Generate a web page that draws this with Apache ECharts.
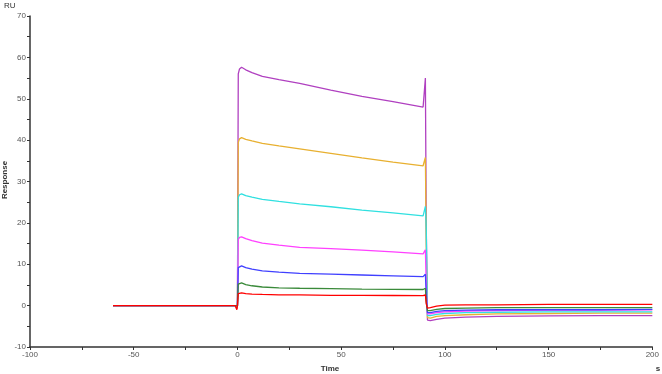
<!DOCTYPE html>
<html><head><meta charset="utf-8">
<script src="https://cdn.jsdelivr.net/npm/echarts@6/dist/echarts.min.js"></script>
<style>html,body{margin:0;padding:0;background:#fff}#c{width:662px;height:374px}</style>
</head><body><div id="c"></div>
<script>
const times = [-60, -1, -0.3, 0, 0.4, 1, 2, 4, 7, 12, 20, 30, 45, 60, 75, 89.5, 90.2, 90.6, 91, 91.6, 93, 96, 100, 110, 125, 150, 175, 200];
const purple  = [0,0,-0.8,0,56.0,57.2,57.6,57.0,56.3,55.4,54.6,53.7,52.1,50.6,49.3,48.0,48.2,55.0,20,-3.5,-3.6,-3.3,-3.0,-2.8,-2.6,-2.5,-2.4,-2.4];
const orange  = [0,0,-0.6,0,39.5,40.3,40.6,40.2,39.8,39.2,38.6,37.9,36.8,35.7,34.7,33.8,33.9,35.8,15,-2.9,-3.0,-2.6,-2.4,-2.2,-2.0,-1.9,-1.8,-1.8];
const cyan    = [0,0,-0.5,0,26.2,26.8,27.0,26.6,26.2,25.7,25.2,24.6,23.9,23.1,22.4,21.7,21.8,24.0,19,-2.4,-2.4,-2.1,-1.9,-1.7,-1.6,-1.5,-1.5,-1.5];
const magenta = [0,0,-0.4,0,16.0,16.5,16.6,16.2,15.7,15.1,14.6,14.1,13.8,13.4,13.0,12.5,12.6,13.5,5,-2.0,-2.0,-1.7,-1.5,-1.3,-1.2,-1.1,-1.1,-1.0];
const blue    = [0,0,-0.3,0,9.2,9.5,9.6,9.2,8.8,8.4,8.1,7.8,7.6,7.4,7.2,7.0,7.0,7.6,3,-1.7,-1.7,-1.4,-1.2,-1.1,-1.0,-1.0,-1.0,-0.9];
const green   = [0,0,-0.3,0,5.2,5.4,5.5,5.1,4.8,4.5,4.3,4.2,4.1,4.0,3.95,3.9,3.9,4.2,1,-1.2,-1.2,-0.9,-0.7,-0.6,-0.5,-0.5,-0.5,-0.5];
const red     = [0,0,-1.0,0,2.9,3.1,3.1,2.9,2.8,2.7,2.6,2.6,2.5,2.5,2.45,2.4,2.4,2.6,0.5,-0.6,-0.5,-0.1,0.1,0.2,0.2,0.3,0.3,0.3];
const seriesData = [purple, orange, cyan, magenta, blue, green, red];
const colors = ['#b040c0','#e8b030','#30e0e0','#ff40ff','#4040ff','#3a8a3a','#ff0000'];

const chart = echarts.init(document.getElementById('c'));
const axisCommon = {
  axisLine:{show:true,onZero:false,lineStyle:{color:'#333',width:1.5}},
  axisTick:{show:true,length:3,lineStyle:{color:'#333'}},
  minorTick:{show:true,splitNumber:2,length:3,lineStyle:{color:'#333'}},
  splitLine:{show:false},
  axisLabel:{fontSize:8,color:'#555',fontFamily:'Liberation Sans',margin:4}
};
chart.setOption({
  animation:false,
  grid:{left:30,right:9,top:16,bottom:27,containLabel:false},
  xAxis:Object.assign({type:'value',min:-100,max:200,interval:50},axisCommon),
  yAxis:Object.assign({type:'value',min:-10,max:70,interval:10},axisCommon),
  series: seriesData.map((d,i)=>({
    type:'line', showSymbol:false, symbol:'none',
    data: times.map((t,j)=>[t,d[j]]),
    lineStyle:{color:colors[i],width:1.3},
    itemStyle:{color:colors[i]}, z:2+i
  })),
  graphic:[
    {type:'text',left:4,top:2,style:{text:'RU',fontSize:8,fill:'#333',fontFamily:'Liberation Sans'}},
    {type:'text',x:5,y:180,rotation:Math.PI/2,style:{text:'Response',fontSize:8,fontWeight:'bold',fill:'#333',fontFamily:'Liberation Sans',align:'center',verticalAlign:'middle'}},
    {type:'text',x:330,y:369,style:{text:'Time',fontSize:8,fontWeight:'bold',fill:'#333',fontFamily:'Liberation Sans',align:'center',verticalAlign:'middle'}},
    {type:'text',x:658,y:369,style:{text:'s',fontSize:8,fontWeight:'bold',fill:'#333',fontFamily:'Liberation Sans',align:'center',verticalAlign:'middle'}}
  ]
});
</script></body></html>
